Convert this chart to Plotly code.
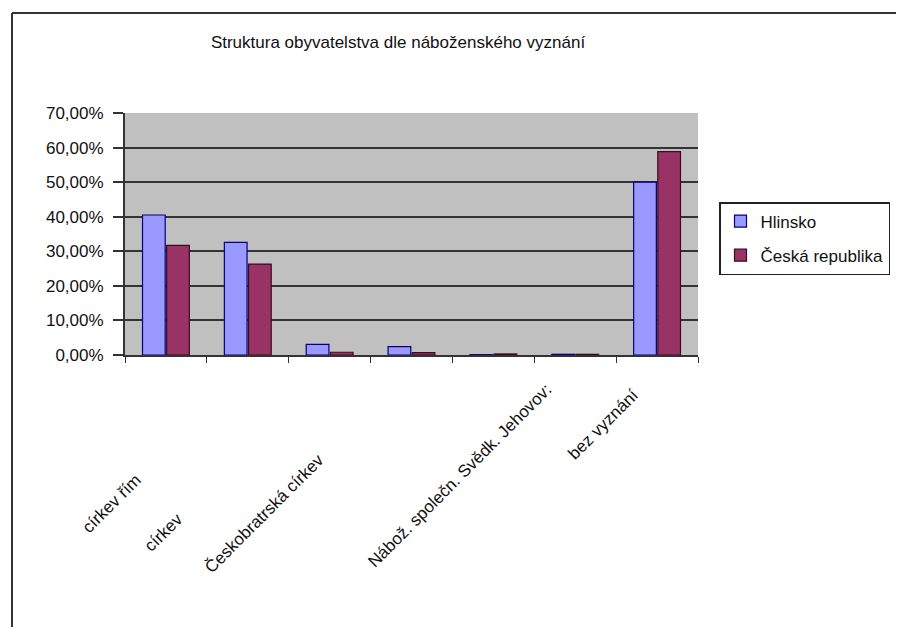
import plotly.graph_objects as go

# ---- data ----
categories = [
    "věřící celkem",
    "Církev římskokatolická",
    "Církev československá husitská",
    "Českobratrská církev evangelická",
    "ostatní církve",
    "Nábož. společn. Svědků Jehovových",
    "bez vyznání",
]
# visible (partially faded) axis labels as they appear in the picture
tick_labels = ["", "církev řím", "církev", "Českobratrská církev", "",
               "Nábož. společn. Svědk. Jehovov:", "bez vyznání"]
hlinsko = [40.5, 32.6, 3.1, 2.4, 0.1, 0.2, 50.0]
cr = [31.7, 26.3, 0.8, 0.7, 0.3, 0.2, 58.8]
series_names = ["Hlinsko", "Česká republika"]
title_text = "Struktura obyvatelstva dle náboženského vyznání"
y_ticks = [0, 10, 20, 30, 40, 50, 60, 70]
y_tick_text = ["0,00%", "10,00%", "20,00%", "30,00%", "40,00%", "50,00%", "60,00%", "70,00%"]

# ---- layout constants (screen pixels; page body adds an 8px offset) ----
OFF = 8
W, H = 904 - OFF, 635 - 2 * OFF
PL, PR, PT, PB = 125 - OFF, 698 - OFF, 113 - OFF, 355 - OFF   # plot box in figure px
ML, MR, MT, MB = PL, W - PR, PT, H - PB
PW, PH = PR - PL, PB - PT
FONT = "Liberation Sans, Arial, sans-serif"

def px_x(x):  # screen px -> paper x
    return (x - OFF - PL) / PW

def px_y(y):  # screen px -> paper y
    return (PB - (y - OFF)) / PH

# per-label pixel offsets of the label end from the category centre
label_shift = [(0, 0), (-100, -112), (-140, -152), (-81, -92), (0, 0), (-17, -22), (-12, -28)]

fig = go.Figure()
fig.add_trace(go.Bar(
    x=categories, y=hlinsko, name=series_names[0], legendgroup="a",
    marker=dict(color="#9999FF", line=dict(color="#000080", width=1.2)),
))
fig.add_trace(go.Bar(
    x=categories, y=cr, name=series_names[1], legendgroup="b",
    marker=dict(color="#993366", line=dict(color="#3a0a20", width=1.2)),
))

annotations = []
for cat, lab, (dx, dy) in zip(categories, tick_labels, label_shift):
    if not lab:
        continue
    annotations.append(dict(
        x=cat, xref="x", y=0, yref="paper", text=lab, showarrow=False,
        textangle=-45, xanchor="right", yanchor="top", xshift=dx, yshift=dy,
        font=dict(family=FONT, size=17, color="#111"),
    ))

# outer chart border: only the left and top edges are inside the picture
border_style = dict(color="#333", width=2)
shapes = [
    dict(type="line", xref="paper", yref="paper", layer="above",
         x0=px_x(12), x1=px_x(12), y0=px_y(630), y1=px_y(13), line=border_style),
    dict(type="line", xref="paper", yref="paper", layer="above",
         x0=px_x(12), x1=px_x(900), y0=px_y(13), y1=px_y(13), line=border_style),
]

fig.update_layout(
    width=W, height=H,
    margin=dict(l=ML, r=MR, t=MT, b=MB, pad=0, autoexpand=False),
    paper_bgcolor="white", plot_bgcolor="#C0C0C0",
    font=dict(family=FONT, size=17, color="#111"),
    title=dict(text=title_text, x=(398 - OFF) / W, xanchor="center",
               y=1 - (42 - OFF) / H, yanchor="middle",
               font=dict(family=FONT, size=17, color="#111")),
    barmode="group", bargap=0.41, bargroupgap=0.06,
    showlegend=True,
    legend=dict(x=px_x(719), xanchor="left", y=px_y(202), yanchor="top",
                bgcolor="white", bordercolor="#222", borderwidth=1.5,
                font=dict(family=FONT, size=17, color="#111"),
                tracegroupgap=9, traceorder="grouped", itemwidth=30),
    annotations=annotations,
    shapes=shapes,
)
fig.update_xaxes(
    type="category", range=[-0.5, len(categories) - 0.5], autorange=False,
    showticklabels=False, showgrid=False,
    showline=True, linecolor="#333", linewidth=2,
    ticks="outside", tickson="boundaries", ticklen=6, tickcolor="#333", tickwidth=1,
)
fig.update_yaxes(
    range=[0, 70], autorange=False, tickmode="array", tickvals=y_ticks, ticktext=y_tick_text,
    showgrid=True, gridcolor="#333333", gridwidth=1.6,
    showline=True, linecolor="#333", linewidth=2, zeroline=False,
    ticks="outside", ticklen=10, tickcolor="#333", tickwidth=1.5,
    tickfont=dict(family=FONT, size=17, color="#111"), ticklabelstandoff=6,
    automargin=False,
)

fig.write_html("out.html")
